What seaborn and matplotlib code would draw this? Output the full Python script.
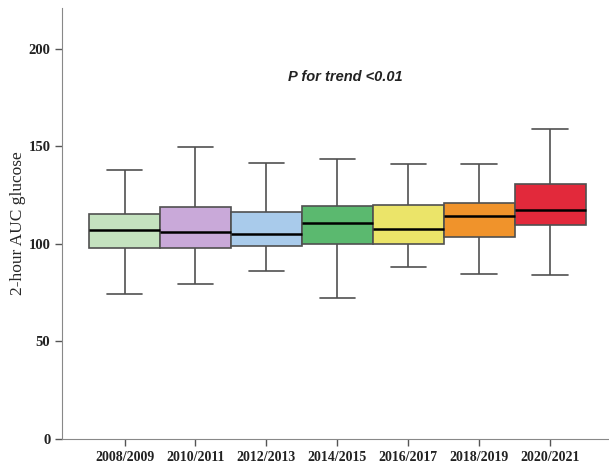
import numpy as np
import pandas as pd
import seaborn as sns
from matplotlib import pyplot as plt

# five-number summaries
periods = ["2008/2009", "2010/2011", "2012/2013", "2014/2015",
           "2016/2017", "2018/2019", "2020/2021"]
whisker_low = [74.5, 79.3, 86.0, 72.1, 88.2, 84.5, 83.9]
q1 = [97.8, 97.8, 98.8, 100.2, 100.0, 103.6, 109.9]
median = [107.2, 106.2, 105.3, 110.6, 107.7, 114.2, 117.4]
q3 = [115.2, 118.8, 116.4, 119.5, 120.2, 120.9, 130.9]
whisker_high = [137.8, 149.6, 141.7, 143.6, 140.9, 141.2, 158.8]
colors = ["#c4e2bf", "#c9a9d9", "#a9cbeb", "#5bb96f",
          "#ebe469", "#f0932b", "#e2293b"]

# one row per summary value, so the quartiles come out as read
rows = []
for i, p in enumerate(periods):
    for v in (whisker_low[i], q1[i], median[i], q3[i], whisker_high[i]):
        rows.append({"period": p, "auc": v})
data = pd.DataFrame(rows)

sns.set_style("ticks")
fig = plt.figure(figsize=(6.09, 4.67), dpi=100)
ax = fig.add_axes([0.102, 0.06, 0.898, 0.923])

sns.boxplot(
    data=data, x="period", y="auc", hue="period", order=periods,
    palette=colors, saturation=1, width=1.0, whis=(0, 100),
    linecolor="#505050", linewidth=1.2, legend=False,
    medianprops={"color": "black", "linewidth": 1.8},
    ax=ax,
)

ax.set_xlim(-0.88, 6.83)
ax.set_ylim(0, 221)
ax.set_yticks([0, 50, 100, 150, 200])
ax.set_xlabel("")
ax.set_ylabel("2-hour AUC glucose", family="Liberation Serif", fontsize=12.5,
              labelpad=2)
for lab in ax.get_xticklabels():
    lab.set_family("Liberation Serif")
    lab.set_fontweight("bold")
    lab.set_fontsize(10)
for lab in ax.get_yticklabels():
    lab.set_family("Liberation Serif")
    lab.set_fontweight("bold")
    lab.set_fontsize(10.5)
ax.tick_params(colors="#555555", labelcolor="#222222", width=1, length=5)
for s in ("left", "bottom"):
    ax.spines[s].set_color("#888888")
sns.despine(ax=ax)

ax.text(3.11, 185.6, "P for trend <0.01", ha="center", va="center",
        family="Liberation Sans", fontweight="bold", fontstyle="italic",
        fontsize=10.5, color="#222222")

fig.savefig("out.png", dpi=100)
